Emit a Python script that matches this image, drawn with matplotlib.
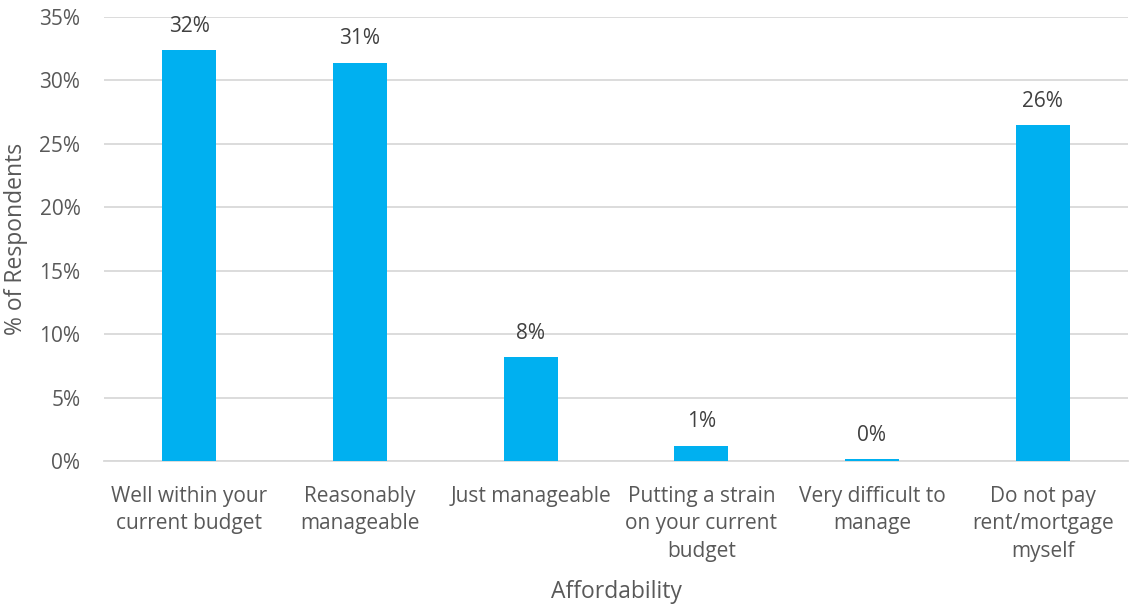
import matplotlib
matplotlib.use("Agg")
import matplotlib.pyplot as plt
from matplotlib.ticker import FuncFormatter, MultipleLocator

# categories and values
categories = ["Well within your\ncurrent budget", "Reasonably\nmanageable", "Just manageable",
              "Putting a strain\non your current\nbudget", "Very difficult to\nmanage",
              "Do not pay\nrent/mortgage\nmyself"]
values = [32.4, 31.4, 8.2, 1.2, 0.15, 26.5]
labels = ["32%", "31%", "8%", "1%", "0%", "26%"]

plt.rcParams['font.family'] = ['Open Sans', 'DejaVu Sans']
txt = '#595959'

fig = plt.figure(figsize=(11.31, 6.06), dpi=100)
ax = fig.add_axes([104/1131, 1 - 461/606, (1128 - 104)/1131, (461 - 17)/606])

x = range(len(categories))
ax.bar(x, values, width=0.315, color='#00B0F0', zorder=3)
for i, v in enumerate(values):
    ax.text(i, v + 1.05, labels[i], ha='center', va='bottom', fontsize=15, color='#404040')

ax.set_ylim(0, 35)
ax.set_xlim(-0.5, len(categories) - 0.5)
ax.yaxis.set_major_locator(MultipleLocator(5))
ax.yaxis.set_major_formatter(FuncFormatter(lambda v, p: f"{v:.0f}%"))
ax.grid(axis='y', color='#d9d9d9', linewidth=1.3, zorder=0)
for s in ['top', 'right', 'left']:
    ax.spines[s].set_visible(False)
ax.spines['bottom'].set_color('#d9d9d9')
ax.spines['bottom'].set_linewidth(1.3)
ax.tick_params(axis='y', length=0, labelsize=15, labelcolor=txt, pad=17)
ax.tick_params(axis='x', length=0, labelsize=15, labelcolor=txt, pad=18)
ax.set_xticks(list(x))
ax.set_xticklabels(categories, linespacing=1.4)

ax.set_ylabel("% of Respondents", fontsize=16.5, color=txt, labelpad=8)
ax.set_xlabel("Affordability", fontsize=16.5, color=txt, labelpad=13)

fig.savefig("out.png", dpi=100)
